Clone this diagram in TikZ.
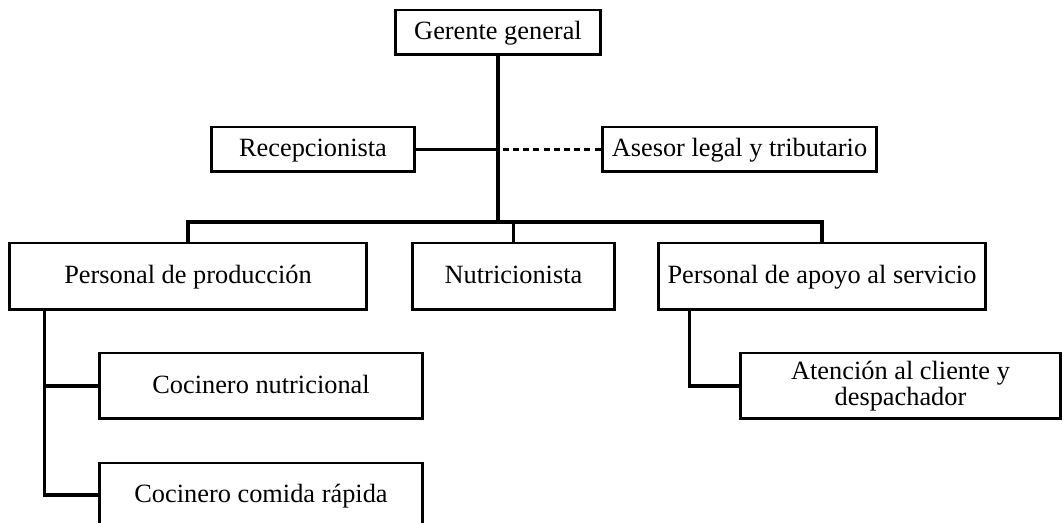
\documentclass[tikz,border=0pt]{standalone}
\usepackage{fontspec}
\setmainfont{Liberation Serif}
\usetikzlibrary{positioning,calc}
\tikzset{
    % organisation boxes
    box/.style={
        draw=black,
        line width=1.7pt,
        rectangle,
        inner sep=0pt,
        align=center,
        font=\fontsize{15}{14.8}\selectfont,
    },
    oneline/.style={
        box,
        text height=11pt,
        text depth=3pt,
    },
    small/.style={
        oneline,
        minimum height=0.9cm,
    },
    large/.style={
        oneline,
        minimum height=1.34cm,
    },
    % connectors
    link/.style={
        line width=1.9pt,
    },
    advice/.style={
        line width=1.3pt,
        dash pattern=on 3.4pt off 2.4pt,
    },
}

\begin{document}
\begin{tikzpicture}[x=0.02cm,y=-0.02cm]
    \useasboundingbox (0,0) rectangle (1062,523);
    % top levels
    \node[small,minimum width=4.12cm] (gg) at (498,32.5) {Gerente general};
    \node[small,minimum width=4.08cm] (rec) at (313,149.5) {Recepcionista};
    \node[small,minimum width=5.5cm] (ase) at (739.5,149.5) {Asesor legal y tributario};
    % areas
    \node[large,minimum width=7.16cm] (pp) at (188,276.5) {Personal de producción};
    \node[large,minimum width=4.06cm] (nut) at (513.5,276.5) {Nutricionista};
    \node[large,minimum width=6.56cm] (pa) at (822,276.5) {Personal de apoyo al servicio};
    % staff
    \node[oneline,minimum width=6.48cm,minimum height=1.32cm] (cn) at (261,386) {Cocinero nutricional};
    \node[oneline,minimum width=6.48cm,minimum height=1.28cm] (cr) at (261,495) {Cocinero comida rápida};
    \node[box,minimum width=6.42cm,minimum height=1.32cm] (ac) at (900.5,386) {Atención al cliente y\\despachador};

    \coordinate (bus) at (498,222);
    \draw[link] (gg.south) -- (bus);
    \draw[link] (rec.east) -- (rec.east -| gg.south);
    \draw[advice] (ase.west) -- (ase.west -| gg.south);
    \draw[link] (pp.north) |- (bus) -| (pa.north);
    \draw[link] (nut.north) -- (nut.north |- bus);
    \draw[link] ([xshift=0.74cm]pp.south west) |- (cn.west);
    \draw[link] ([xshift=0.74cm]pp.south west) |- (cr.west);
    \draw[link] ([xshift=0.66cm]pa.south west) |- (ac.west);
\end{tikzpicture}
\end{document}
